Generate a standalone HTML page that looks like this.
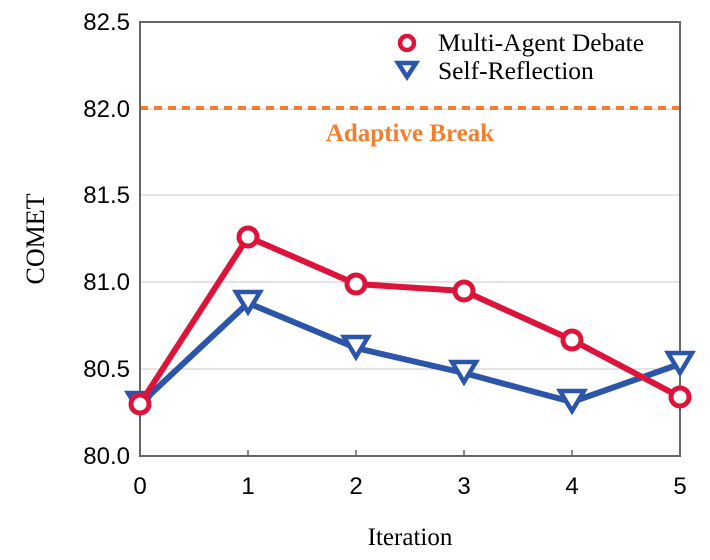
<!DOCTYPE html><html><head><style>body{margin:0;background:#fff}</style></head><body>
<svg width="710" height="555" xmlns="http://www.w3.org/2000/svg" font-family="Liberation Sans, sans-serif">
<g stroke="#c8c8c8" stroke-width="1">
<line x1="140" x2="680" y1="369" y2="369"/><line x1="140" x2="680" y1="282" y2="282"/><line x1="140" x2="680" y1="195" y2="195"/><line x1="140" x2="680" y1="109" y2="109"/></g>
<line x1="140" x2="680" y1="108" y2="108" stroke="#f08030" stroke-width="4" stroke-dasharray="8,6"/>
<text x="410" y="141" text-anchor="middle" font-family="Liberation Serif, serif" font-weight="bold" font-size="25" fill="#f08030">Adaptive Break</text>
<rect x="140" y="22" width="540" height="434" fill="none" stroke="#666" stroke-width="2"/>
<g stroke="#666" stroke-width="1.5"><line x1="248" x2="248" y1="456" y2="450"/><line x1="356" x2="356" y1="456" y2="450"/><line x1="464" x2="464" y1="456" y2="450"/><line x1="572" x2="572" y1="456" y2="450"/></g>
<g font-size="24" fill="#000" text-anchor="end">
<text x="130" y="464">80.0</text><text x="130" y="377">80.5</text><text x="130" y="290">81.0</text><text x="130" y="203">81.5</text><text x="130" y="117">82.0</text><text x="130" y="30">82.5</text></g>
<g font-size="24" text-anchor="middle"><text x="140" y="494">0</text><text x="248" y="494">1</text><text x="356" y="494">2</text><text x="464" y="494">3</text><text x="572" y="494">4</text><text x="680" y="494">5</text></g>
<text x="410" y="545" text-anchor="middle" font-family="Liberation Serif, serif" font-size="25">Iteration</text>
<text transform="translate(44,239) rotate(-90)" text-anchor="middle" font-family="Liberation Serif, serif" font-size="26">COMET</text>
<polyline fill="none" stroke="#2a55a8" stroke-width="6" stroke-linejoin="round" points="140,404 248,303 356,348 464,373 572,402 680,364"/>
<g fill="#fff" stroke="#2a55a8" stroke-width="4.5">
<path d="M128,393h24l-12,20z"/><path d="M236,292h24l-12,20z"/><path d="M344,337h24l-12,20z"/><path d="M452,362h24l-12,20z"/><path d="M560,391h24l-12,20z"/><path d="M668,353h24l-12,20z"/></g>
<polyline fill="none" stroke="#dc143c" stroke-width="6" stroke-linejoin="round" points="140,404 248,237 356,284 464,291 572,340 680,397"/>
<g fill="#fff" stroke="#dc143c" stroke-width="5">
<circle cx="140" cy="404" r="9"/><circle cx="248" cy="237" r="9"/><circle cx="356" cy="284" r="9"/><circle cx="464" cy="291" r="9"/><circle cx="572" cy="340" r="9"/><circle cx="680" cy="397" r="9"/></g>
<circle cx="407" cy="43" r="7" fill="#fff" stroke="#dc143c" stroke-width="4.5"/>
<path d="M398,63h18l-9,14z" fill="#fff" stroke="#2a55a8" stroke-width="4.5"/>
<g font-family="Liberation Serif, serif" font-size="25.5"><text x="438" y="51">Multi-Agent Debate</text><text x="438" y="79">Self-Reflection</text></g>
</svg></body></html>
